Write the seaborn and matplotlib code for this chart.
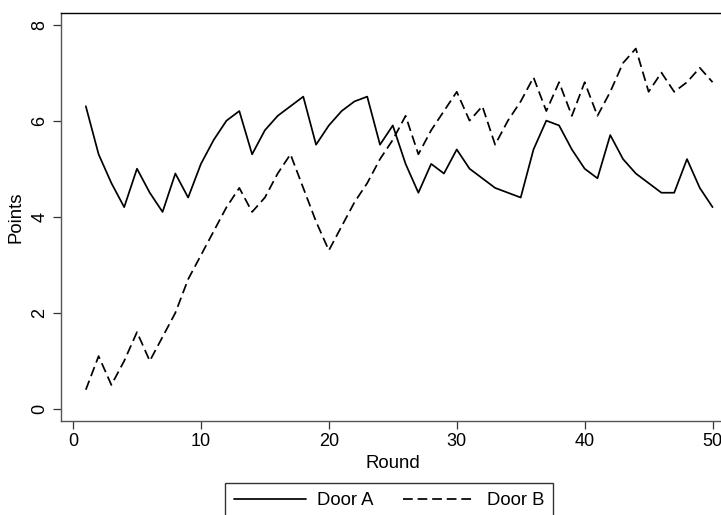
import numpy as np
import pandas as pd
import matplotlib
matplotlib.use("Agg")
import matplotlib.pyplot as plt
import seaborn as sns

# Average points per round for each door
rounds = list(range(1, 51))
door_a = [6.3, 5.3, 4.7, 4.2, 5.0, 4.5, 4.1, 4.9, 4.4, 5.1,
          5.6, 6.0, 6.2, 5.3, 5.8, 6.1, 6.3, 6.5, 5.5, 5.9,
          6.2, 6.4, 6.5, 5.5, 5.9, 5.1, 4.5, 5.1, 4.9, 5.4,
          5.0, 4.8, 4.6, 4.5, 4.4, 5.4, 6.0, 5.9, 5.4, 5.0,
          4.8, 5.7, 5.2, 4.9, 4.7, 4.5, 4.5, 5.2, 4.6, 4.2]
door_b = [0.4, 1.1, 0.5, 1.0, 1.6, 1.0, 1.5, 2.0, 2.7, 3.2,
          3.7, 4.2, 4.6, 4.1, 4.4, 4.9, 5.3, 4.6, 3.9, 3.3,
          3.8, 4.3, 4.7, 5.2, 5.6, 6.1, 5.3, 5.8, 6.2, 6.6,
          6.0, 6.3, 5.5, 6.0, 6.4, 6.9, 6.2, 6.8, 6.1, 6.8,
          6.1, 6.6, 7.2, 7.5, 6.6, 7.0, 6.6, 6.8, 7.1, 6.8]
series_names = ["Door A", "Door B"]
x_ticks = [0, 10, 20, 30, 40, 50]
y_ticks = [0, 2, 4, 6, 8]

df = pd.DataFrame({
    "Round": rounds * 2,
    "Points": door_a + door_b,
    "Door": [series_names[0]] * len(rounds) + [series_names[1]] * len(rounds),
})

sns.set_style("ticks")
plt.rcParams["font.family"] = ["Liberation Sans", "DejaVu Sans"]
plt.rcParams["text.color"] = "black"
plt.rcParams["axes.labelcolor"] = "black"

DASH = (5.6, 2.8)
LW = 1.25

W, H = 721, 515
fig = plt.figure(figsize=(W / 100, H / 100), dpi=100)
left, right, top, bottom = 61, 724.6, 13, 421
ax = fig.add_axes([left / W, 1 - bottom / H, (right - left) / W, (bottom - top) / H])

sns.lineplot(data=df, x="Round", y="Points", style="Door",
             dashes={"Door A": "", "Door B": DASH},
             color="black", linewidth=LW, ax=ax, legend=False)

ax.set_xlim(-0.94, 50.94)
ax.set_ylim(-0.25, 8.24)
ax.set_xticks(x_ticks)
ax.set_yticks(y_ticks)
ax.tick_params(axis="both", direction="out", length=6, width=0.9,
               color="#333333", labelcolor="black", labelsize=13, pad=3)
for lbl in ax.get_yticklabels():
    lbl.set_rotation(90)
    lbl.set_va("center")
ax.set_xlabel("Round", fontsize=13.4, labelpad=3.5)
ax.set_ylabel("Points", fontsize=13.4, labelpad=5)

for side in ["left", "bottom", "top", "right"]:
    ax.spines[side].set_visible(True)
    ax.spines[side].set_linewidth(1.0)
    ax.spines[side].set_color("black")
ax.spines["left"].set_color("#555555")
ax.spines["bottom"].set_color("#555555")

handles = [plt.Line2D([], [], color="black", linewidth=LW),
           plt.Line2D([], [], color="black", linewidth=LW, dashes=DASH)]
leg = fig.legend(handles, series_names, ncol=2, loc="upper left",
                 bbox_to_anchor=(225 / W, 1 - 483 / H), frameon=True,
                 fancybox=False, edgecolor="black", fontsize=13.3,
                 handlelength=3.9, columnspacing=1.6, handletextpad=0.6,
                 borderpad=0.5, borderaxespad=0)
leg.get_frame().set_linewidth(1.0)

fig.savefig("out.png", dpi=100, facecolor="white")
